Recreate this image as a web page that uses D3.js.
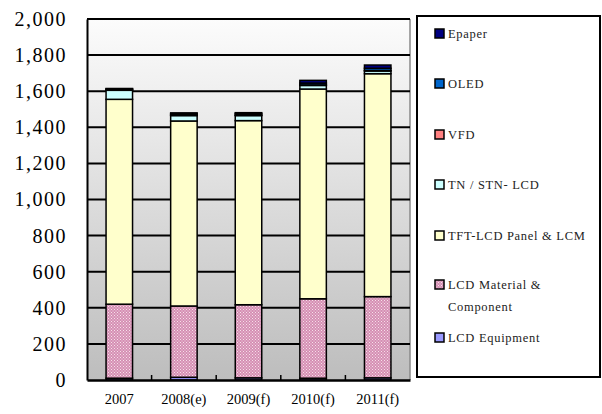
<!DOCTYPE html>
<html><head><meta charset="utf-8">
<script src="https://cdn.jsdelivr.net/npm/d3@7"></script>
<style>body{margin:0;background:#fff}</style>
</head><body>
<svg id="c" width="602" height="414" font-family="Liberation Serif"></svg>
<script>
const years = ["2007","2008(e)","2009(f)","2010(f)","2011(f)"];
const seriesNames = ["LCD Equipment","LCD Material & Component","TFT-LCD Panel & LCM","TN / STN- LCD","VFD","OLED","Epaper"];
const lcdEquipment = [10, 15, 12, 10, 12];
const lcdMaterial = [410, 395, 405, 440, 450];
const tftPanel = [1135, 1025, 1020, 1162, 1235];
const tnStn = [50, 30, 28, 20, 15];
const vfd = [3, 3, 3, 3, 3];
const oled = [5, 7, 8, 10, 12];
const epaper = [2, 5, 5, 15, 18];
const yTicks = [0,200,400,600,800,1000,1200,1400,1600,1800,2000];

const seriesValues = [lcdEquipment, lcdMaterial, tftPanel, tnStn, vfd, oled, epaper];
const colors = ["#9999ff","url(#mat)","#ffffcc","#ccffff","#ff8080","#0066cc","#000080"];
const FONT = "Liberation Serif";

const svg = d3.select("#c");
const defs = svg.append("defs");
const g0 = defs.append("linearGradient").attr("id","bg").attr("x1",0).attr("y1",0).attr("x2",0).attr("y2",1);
g0.append("stop").attr("offset","0%").attr("stop-color","#fcfcfc");
g0.append("stop").attr("offset","100%").attr("stop-color","#bdbdbd");
const pat = defs.append("pattern").attr("id","mat").attr("width",3).attr("height",3).attr("patternUnits","userSpaceOnUse");
pat.append("rect").attr("width",3).attr("height",3).attr("fill","#d58fb3");
pat.append("rect").attr("width",1).attr("height",1).attr("fill","#f6e0ea");
pat.append("rect").attr("x",1.5).attr("y",1.5).attr("width",1).attr("height",1).attr("fill","#f6e0ea");

const L = 87, R = 410, T = 19, B = 380;
const x = d3.scaleBand().domain(years).range([L, R]).paddingInner(0.59).paddingOuter(0.295);
const y = d3.scaleLinear().domain([0, 2000]).range([B, T]);

svg.append("rect").attr("x",L).attr("y",T).attr("width",R-L).attr("height",B-T).attr("fill","url(#bg)");
svg.append("line").attr("x1",R).attr("x2",R).attr("y1",T).attr("y2",B).attr("stroke","#888").attr("stroke-width",1.5);

svg.append("g").selectAll("line").data(yTicks.filter(d=>d>0)).join("line")
  .attr("x1",L).attr("x2",R).attr("y1",d=>y(d)).attr("y2",d=>y(d))
  .attr("stroke","#000").attr("stroke-width",2);

const data = years.map((yr,i)=>{ const o={year:yr}; seriesNames.forEach((s,k)=>o[s]=seriesValues[k][i]); return o; });
const stack = d3.stack().keys(seriesNames)(data);
svg.append("g").selectAll("g").data(stack).join("g")
  .attr("fill",(d,i)=>colors[i])
  .selectAll("rect").data(d=>d).join("rect")
  .attr("x",d=>x(d.data.year)).attr("width",x.bandwidth())
  .attr("y",d=>y(d[1])).attr("height",d=>y(d[0])-y(d[1]))
  .attr("stroke","#000").attr("stroke-width",1.5);

const ya = svg.append("g").attr("transform",`translate(${L},0)`)
  .call(d3.axisLeft(y).tickValues(yTicks).tickSize(0).tickPadding(20).tickFormat(d3.format(",")));
ya.attr("font-family",FONT).attr("font-size",20);
ya.select(".domain").attr("stroke","#000").attr("stroke-width",2);
ya.selectAll("text").attr("font-family",FONT).attr("font-size",20).attr("letter-spacing","1.5px").attr("fill","#000");

const xa = svg.append("g").attr("transform",`translate(0,${B})`)
  .call(d3.axisBottom(x).tickSize(0).tickPadding(14));
xa.attr("font-family",FONT).attr("font-size",14.5);
xa.select(".domain").attr("stroke","#000").attr("stroke-width",2.5);
xa.selectAll("text").attr("font-family",FONT).attr("font-size",14.5).attr("fill","#000");
const step = x.step();
svg.append("g").selectAll("line").data(years.slice(1)).join("line")
  .attr("x1",d=>x(d)-(step-x.bandwidth())/2).attr("x2",d=>x(d)-(step-x.bandwidth())/2)
  .attr("y1",B-5).attr("y2",B).attr("stroke","#000").attr("stroke-width",1.5);

svg.append("rect").attr("x",417).attr("y",16).attr("width",183).attr("height",361)
  .attr("fill","#fff").attr("stroke","#000").attr("stroke-width",2);
const legendItems = [
  {name:"Epaper", c:6, y:34},
  {name:"OLED", c:5, y:84},
  {name:"VFD", c:4, y:135},
  {name:"TN / STN- LCD", c:3, y:185},
  {name:"TFT-LCD Panel & LCM", c:2, y:236},
  {name:"LCD Material &", c:1, y:285, extra:"Component"},
  {name:"LCD Equipment", c:0, y:338}
];
const lg = svg.append("g");
legendItems.forEach(it=>{
  lg.append("rect").attr("x",435).attr("y",it.y-5).attr("width",9).attr("height",9)
    .attr("fill",colors[it.c]).attr("stroke","#000").attr("stroke-width",1.5);
  lg.append("text").attr("x",448).attr("y",it.y+4).text(it.name)
    .attr("font-family",FONT).attr("font-size",12.5).attr("letter-spacing","0.7px").attr("fill","#222");
  if(it.extra) lg.append("text").attr("x",448).attr("y",it.y+26).text(it.extra)
    .attr("font-family",FONT).attr("font-size",12.5).attr("letter-spacing","0.7px").attr("fill","#222");
});
</script>
</body></html>
